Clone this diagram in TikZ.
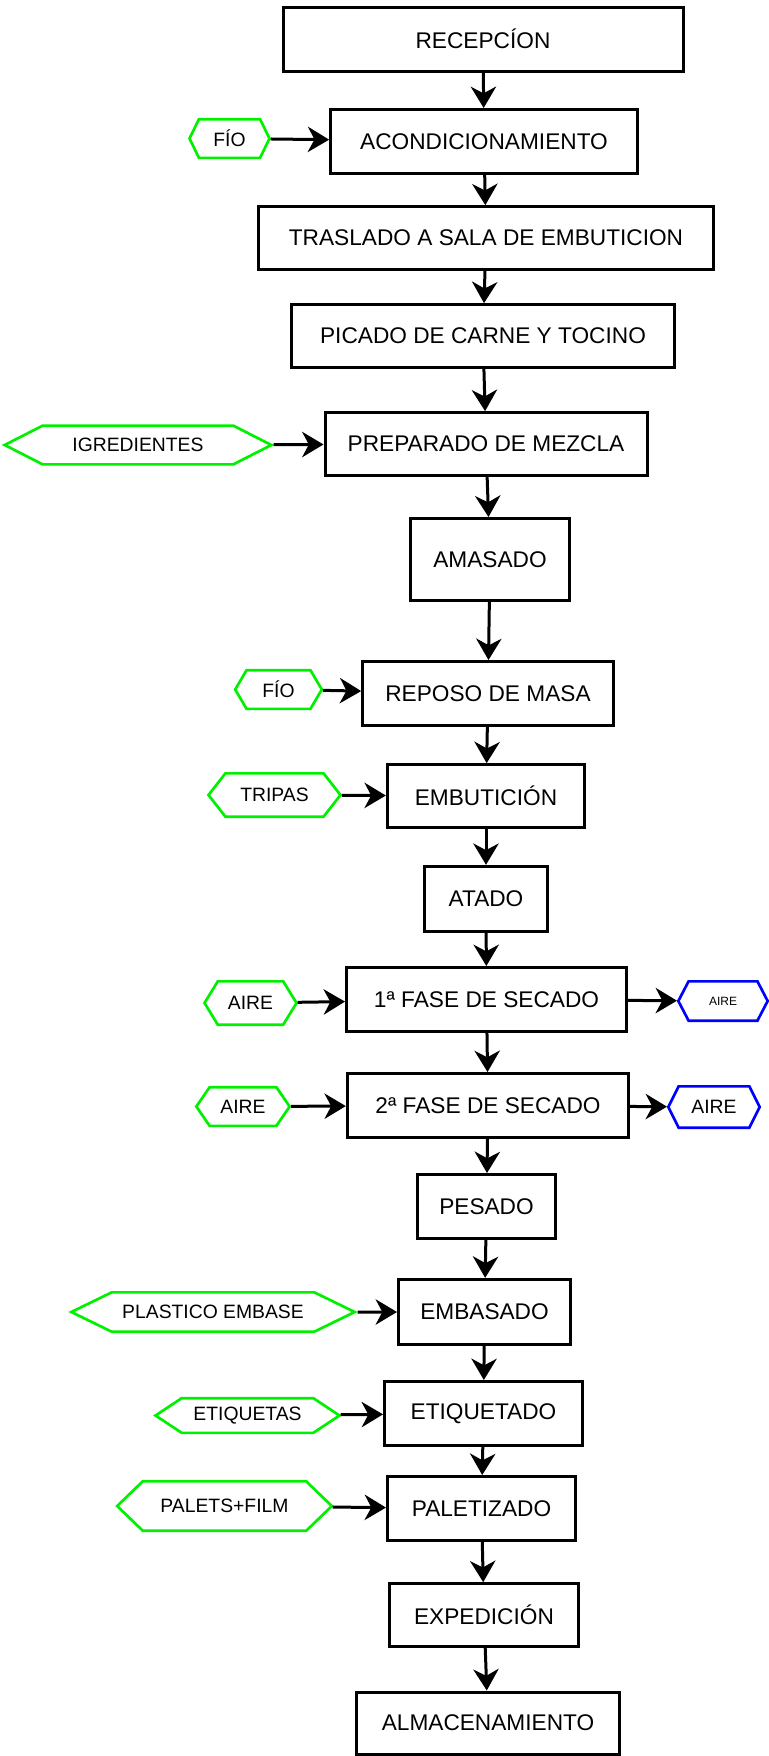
\documentclass[tikz,border=0pt]{standalone}
\usepackage{fontspec}
\setmainfont{Liberation Sans}
\usetikzlibrary{shapes.symbols, arrows.meta}
\definecolor{verde}{RGB}{0,240,0}
\definecolor{azul}{RGB}{0,0,255}

\begin{document}
\begin{tikzpicture}[x=0.75pt, y=-0.75pt,
        paso/.style={draw, rectangle, line width=2.25pt, inner sep=0pt, font=\fontsize{17}{20}\selectfont},
        hexa/.style={draw=verde, signal, signal to=east and west, line width=2pt, inner sep=0pt, font=\fontsize{14.5}{17}\selectfont},
        salida/.style={hexa, draw=azul},
        flecha/.style={-{Stealth[length=16pt, width=19pt, inset=5pt]}, line width=2.25pt}]
        \useasboundingbox (0,0) rectangle (768,1756);

        % Etapas del proceso
        \node[paso, minimum width=300pt, minimum height=48pt] (rec) at (483, 39) {RECEPCÍON};
        \node[paso, minimum width=230pt, minimum height=48pt] (acond) at (484, 141.5) {ACONDICIONAMIENTO};
        \node[paso, minimum width=341pt, minimum height=47pt] (tras) at (486, 238) {TRASLADO A SALA DE EMBUTICION};
        \node[paso, minimum width=287pt, minimum height=47pt] (pica) at (483, 336) {PICADO DE CARNE Y TOCINO};
        \node[paso, minimum width=241.5pt, minimum height=47pt] (prep) at (486, 444) {PREPARADO DE MEZCLA};
        \node[paso, minimum width=119pt, minimum height=61.5pt] (amas) at (490, 559.5) {AMASADO};
        \node[paso, minimum width=188pt, minimum height=48pt] (repo) at (488, 693.5) {REPOSO DE MASA};
        \node[paso, minimum width=148pt, minimum height=47pt] (embu) at (486, 796) {EMBUTICIÓN};
        \node[paso, minimum width=92pt, minimum height=49pt] (atad) at (486, 899) {ATADO};
        \node[paso, minimum width=210pt, minimum height=48pt] (sec1) at (486.5, 999.5) {1ª FASE DE SECADO};
        \node[paso, minimum width=211pt, minimum height=48pt] (sec2) at (488, 1105.5) {2ª FASE DE SECADO};
        \node[paso, minimum width=103.5pt, minimum height=48pt] (pesa) at (486.5, 1206.5) {PESADO};
        \node[paso, minimum width=129pt, minimum height=49pt] (emba) at (484.5, 1312) {EMBASADO};
        \node[paso, minimum width=148.5pt, minimum height=48pt] (etiq) at (483.5, 1413.5) {ETIQUETADO};
        \node[paso, minimum width=141pt, minimum height=48pt] (pale) at (481.5, 1508.5) {PALETIZADO};
        \node[paso, minimum width=142pt, minimum height=47pt] (expe) at (484, 1615) {EXPEDICIÓN};
        \node[paso, minimum width=197pt, minimum height=46.5pt] (alma) at (488, 1723) {ALMACENAMIENTO};

        % Entradas
        \node[hexa, minimum width=60pt, minimum height=29pt, signal pointer angle=128] (fio1) at (229.5, 138.5) {FÍO};
        \node[hexa, minimum width=200pt, minimum height=29pt, signal pointer angle=54] (ingr) at (138, 445) {IGREDIENTES};
        \node[hexa, minimum width=65pt, minimum height=29pt, signal pointer angle=119] (fio2) at (278.5, 689.5) {FÍO};
        \node[hexa, minimum width=99pt, minimum height=32.5pt, signal pointer angle=104] (trip) at (274.5, 795) {TRIPAS};
        \node[hexa, minimum width=69pt, minimum height=32.5pt, signal pointer angle=117] (aire1) at (250.5, 1003) {AIRE};
        \node[hexa, minimum width=70pt, minimum height=29pt, signal pointer angle=111] (aire2) at (243, 1106.5) {AIRE};
        \node[hexa, minimum width=212.5pt, minimum height=29.5pt, signal pointer angle=52] (plas) at (213, 1312) {PLASTICO EMBASE};
        \node[hexa, minimum width=138pt, minimum height=26pt, signal pointer angle=67] (etis) at (247.5, 1415.5) {ETIQUETAS};
        \node[hexa, minimum width=161pt, minimum height=37pt, signal pointer angle=88] (palf) at (224.5, 1506) {PALETS+FILM};

        % Salidas
        \node[salida, minimum width=67pt, minimum height=29.5pt, signal pointer angle=125, font=\fontsize{9}{11}\selectfont] (aire1o) at (723, 1001) {AIRE};
        \node[salida, minimum width=68.5pt, minimum height=31pt, signal pointer angle=127] (aire2o) at (714, 1107) {AIRE};

        % Conexiones
        \draw[flecha] (rec) -- (acond);
        \draw[flecha] (acond) -- (tras);
        \draw[flecha] (tras) -- (pica);
        \draw[flecha] (pica) -- (prep);
        \draw[flecha] (prep) -- (amas);
        \draw[flecha] (amas) -- (repo);
        \draw[flecha] (repo) -- (embu);
        \draw[flecha] (embu) -- (atad);
        \draw[flecha] (atad) -- (sec1);
        \draw[flecha] (sec1) -- (sec2);
        \draw[flecha] (sec2) -- (pesa);
        \draw[flecha] (pesa) -- (emba);
        \draw[flecha] (emba) -- (etiq);
        \draw[flecha] (etiq) -- (pale);
        \draw[flecha] (pale) -- (expe);
        \draw[flecha] (expe) -- (alma);

        \draw[flecha] (fio1) -- (acond);
        \draw[flecha] (ingr) -- (prep);
        \draw[flecha] (fio2) -- (repo);
        \draw[flecha] (trip) -- (embu);
        \draw[flecha] (aire1) -- (sec1);
        \draw[flecha] (aire2) -- (sec2);
        \draw[flecha] (plas) -- (emba);
        \draw[flecha] (etis) -- (etiq);
        \draw[flecha] (palf) -- (pale);
        \draw[flecha] (sec1) -- (aire1o);
        \draw[flecha] (sec2) -- (aire2o);
    \end{tikzpicture}
\end{document}
